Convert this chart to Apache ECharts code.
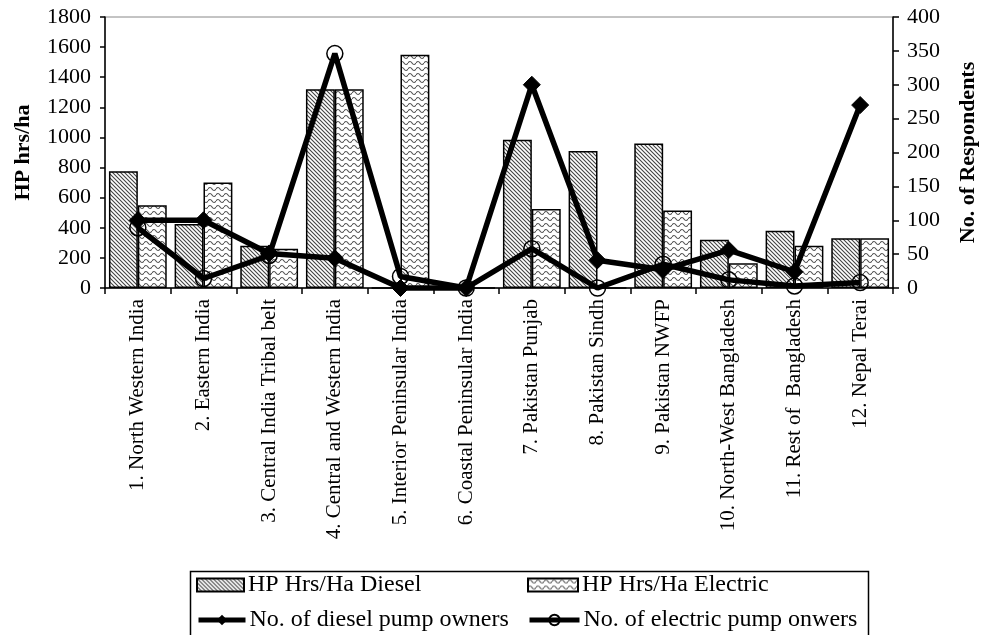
<!DOCTYPE html>
<html>
<head>
<meta charset="utf-8">
<script src="https://cdn.jsdelivr.net/npm/echarts@6/dist/echarts.min.js"></script>
<style>
html,body{margin:0;padding:0;background:#fff;}
#chart{width:990px;height:635px;}
</style>
</head>
<body>
<div id="chart"></div>
<script>
var categories = [
  '1. North Western India', '2. Eastern India', '3. Central India Tribal belt',
  '4. Central and Western India', '5. Interior Peninsular India', '6. Coastal Peninsular India',
  '7. Pakistan Punjab', '8. Pakistan Sindh', '9. Pakistan NWFP',
  '10. North-West Bangladesh', '11. Rest of  Bangladesh', '12. Nepal Terai'
];
var hpDiesel   = [775, 425, 280, 1320, 0, 0, 985, 910, 960, 320, 380, 330];
var hpElectric = [550, 700, 260, 1320, 1550, 0, 525, 0, 515, 165, 280, 330];
var dieselOwners   = [100, 100, 51, 44, 0, 0, 300, 41, 27, 56, 24, 270];
var electricOwners = [89, 14, 48, 346, 17, 0, 58, 0, 35, 12, 3, 8];
var leftTicks = [0, 1800, 200];
var rightTicks = [0, 400, 50];
var seriesNames = ['HP Hrs/Ha Diesel', 'HP Hrs/Ha Electric', 'No. of diesel pump owners', 'No. of electric pump onwers'];

function dieselPattern() {
  var c = document.createElement('canvas');
  c.width = 4; c.height = 4;
  var g = c.getContext('2d');
  g.fillStyle = '#fff'; g.fillRect(0, 0, 4, 4);
  g.strokeStyle = '#444'; g.lineWidth = 1.1;
  g.beginPath();
  g.moveTo(-1, -1); g.lineTo(5, 5);
  g.moveTo(-1, 3); g.lineTo(1, 5);
  g.moveTo(3, -1); g.lineTo(5, 1);
  g.stroke();
  return c;
}
function electricPattern() {
  var c = document.createElement('canvas');
  c.width = 8; c.height = 6;
  var g = c.getContext('2d');
  g.fillStyle = '#fff'; g.fillRect(0, 0, 8, 6);
  g.strokeStyle = '#555'; g.lineWidth = 1.2;
  g.beginPath();
  g.moveTo(0, 3);
  g.quadraticCurveTo(2, 0, 4, 3);
  g.quadraticCurveTo(6, 6, 8, 3);
  g.stroke();
  return c;
}

var FONT = 'Liberation Serif';
function legendItem(name, left, top, w, icon) {
  var d = { name: name };
  if (icon) d.icon = icon;
  return {
    orient: 'horizontal', left: left, top: top, selectedMode: false, padding: 0,
    itemWidth: w, itemHeight: 13, itemGap: 4,
    lineStyle: { width: 5 },
    textStyle: { fontFamily: FONT, fontSize: 24, color: '#000', padding: [0, 0, 0, -1] },
    data: [d]
  };
}

var chart = echarts.init(document.getElementById('chart'));
chart.setOption({
  animation: false,
  backgroundColor: '#fff',
  textStyle: { fontFamily: FONT, color: '#000' },
  grid: { left: 105, right: 97, top: 17, bottom: 347, show: true, borderColor: '#888', borderWidth: 1 },
  legend: [
    legendItem(seriesNames[0], 196, 573, 47, 'rect'),
    legendItem(seriesNames[2], 196, 608, 47),
    legendItem(seriesNames[1], 527, 573, 50, 'rect'),
    legendItem(seriesNames[3], 527, 608, 50)
  ],
  graphic: [{
    type: 'rect', left: 188, top: 569, silent: true,
    shape: { width: 678, height: 80 },
    style: { fill: 'none', stroke: '#000', lineWidth: 1.5 }
  }],
  xAxis: {
    type: 'category', data: categories, boundaryGap: true,
    axisLine: { lineStyle: { color: '#000', width: 1.5 } },
    axisTick: { show: true, length: 6, interval: 0, lineStyle: { color: '#000', width: 1.5 } },
    axisLabel: { interval: 0, rotate: 90, margin: 11, fontSize: 21, fontFamily: FONT, color: '#000' }
  },
  yAxis: [
    {
      type: 'value', min: leftTicks[0], max: leftTicks[1], interval: leftTicks[2],
      name: 'HP hrs/ha', nameLocation: 'middle', nameGap: 71,
      nameTextStyle: { fontFamily: FONT, fontSize: 22, fontWeight: 'bold', color: '#000' },
      axisLine: { show: true, lineStyle: { color: '#000', width: 1.5 } },
      axisTick: { show: true, length: 5, lineStyle: { color: '#000', width: 1.5 } },
      axisLabel: { margin: 14, fontSize: 22, fontFamily: FONT, color: '#000', formatter: function (v) { return String(v); } },
      splitLine: { show: false }
    },
    {
      type: 'value', min: rightTicks[0], max: rightTicks[1], interval: rightTicks[2],
      position: 'right',
      name: 'No. of Respondents', nameLocation: 'middle', nameGap: 64, nameRotate: 90,
      nameTextStyle: { fontFamily: FONT, fontSize: 22, fontWeight: 'bold', color: '#000' },
      axisLine: { show: true, lineStyle: { color: '#000', width: 1.5 } },
      axisTick: { show: true, length: 6, lineStyle: { color: '#000', width: 1.5 } },
      axisLabel: { margin: 14, fontSize: 22, fontFamily: FONT, color: '#000', formatter: function (v) { return String(v); } },
      splitLine: { show: false }
    }
  ],
  series: [
    {
      name: seriesNames[0], type: 'bar', data: hpDiesel,
      barGap: '0%', barCategoryGap: '12%',
      itemStyle: { color: { image: dieselPattern(), repeat: 'repeat' }, borderColor: '#000', borderWidth: 1.5 }
    },
    {
      name: seriesNames[1], type: 'bar', data: hpElectric,
      barGap: '0%', barCategoryGap: '12%',
      itemStyle: { color: { image: electricPattern(), repeat: 'repeat' }, borderColor: '#000', borderWidth: 1.5 }
    },
    {
      name: seriesNames[2], type: 'line', yAxisIndex: 1, data: dieselOwners,
      symbol: 'diamond', symbolSize: 17, clip: false,
      lineStyle: { color: '#000', width: 5.5 },
      itemStyle: { color: '#000', borderColor: '#000' }
    },
    {
      name: seriesNames[3], type: 'line', yAxisIndex: 1, data: electricOwners,
      symbol: 'circle', symbolSize: 16, clip: false,
      lineStyle: { color: '#000', width: 5.5 },
      itemStyle: { color: 'rgba(0,0,0,0)', borderColor: '#000', borderWidth: 1.5 }
    }
  ]
});
</script>
</body>
</html>
